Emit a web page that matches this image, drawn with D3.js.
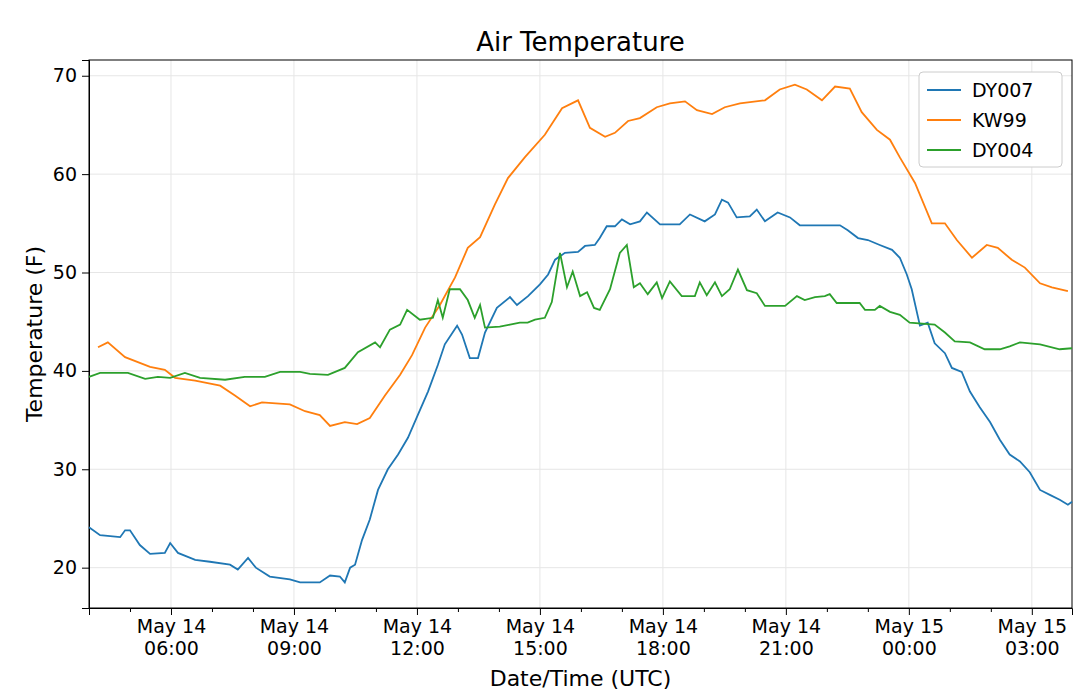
<!DOCTYPE html>
<html><head><meta charset="utf-8">
<script src="https://cdn.jsdelivr.net/npm/d3@7"></script>
<style>
body{margin:0;background:#fff;font-family:"DejaVu Sans",sans-serif;}
.axis text{font-size:19px;fill:#000;font-family:"DejaVu Sans";}
.axis path,.axis line{stroke:#000;}
.grid line{stroke:#e6e6e6;}
.line{fill:none;stroke-width:1.8;}
</style></head>
<body><svg id="chart"></svg>
<script>
// hours since May 14 00:00 UTC, temperature (F)
var dy007Hours = [4.00,4.27,4.76,4.88,5.00,5.24,5.49,5.85,5.98,6.17,6.59,6.95,7.44,7.63,7.88,8.07,8.41,8.90,9.15,9.63,9.88,10.12,10.24,10.37,10.49,10.66,10.85,11.05,11.29,11.54,11.78,12.02,12.27,12.51,12.68,12.98,13.10,13.29,13.49,13.66,13.95,14.27,14.44,14.71,15.00,15.20,15.37,15.61,15.93,16.10,16.34,16.46,16.63,16.83,17.00,17.20,17.44,17.61,17.93,18.41,18.66,19.02,19.27,19.44,19.59,19.80,20.12,20.29,20.49,20.80,21.10,21.34,22.32,22.51,22.76,23.00,23.29,23.59,23.78,23.95,24.07,24.27,24.46,24.63,24.88,25.05,25.29,25.49,25.73,25.98,26.22,26.46,26.71,26.95,27.20,27.44,27.68,27.88,27.98];
var dy007Temp = [24.1,23.3,23.1,23.8,23.8,22.3,21.4,21.5,22.5,21.5,20.8,20.6,20.3,19.8,21.0,20.0,19.1,18.8,18.5,18.5,19.2,19.1,18.5,20.0,20.3,22.8,24.9,27.9,30.0,31.5,33.2,35.5,37.9,40.6,42.7,44.6,43.7,41.3,41.3,43.9,46.4,47.5,46.7,47.6,48.8,49.8,51.3,52.0,52.1,52.7,52.8,53.5,54.7,54.7,55.4,54.9,55.2,56.1,54.9,54.9,55.9,55.2,55.9,57.4,57.1,55.6,55.7,56.4,55.2,56.1,55.6,54.8,54.8,54.3,53.5,53.3,52.8,52.3,51.5,49.8,48.3,44.6,44.9,42.8,41.8,40.3,39.9,37.9,36.3,34.8,33.0,31.5,30.8,29.7,27.9,27.4,26.9,26.4,26.7];

var kw99Hours = [4.22,4.46,4.88,5.49,5.85,6.10,6.59,7.20,7.56,7.93,8.22,8.90,9.27,9.63,9.88,10.24,10.54,10.85,11.22,11.59,11.88,12.20,12.56,12.93,13.24,13.54,13.90,14.22,14.63,15.12,15.54,15.93,16.22,16.59,16.83,17.15,17.44,17.85,18.17,18.54,18.83,19.20,19.51,19.88,20.49,20.85,21.22,21.51,21.88,22.20,22.56,22.85,23.22,23.54,23.78,24.15,24.56,24.88,25.17,25.54,25.90,26.17,26.51,26.83,27.20,27.49,27.88];
var kw99Temp = [42.4,42.9,41.4,40.4,40.1,39.3,39.0,38.5,37.5,36.4,36.8,36.6,35.9,35.5,34.4,34.8,34.6,35.2,37.5,39.6,41.6,44.4,46.7,49.5,52.5,53.6,56.9,59.6,61.7,64.0,66.7,67.5,64.7,63.8,64.2,65.4,65.7,66.8,67.2,67.4,66.5,66.1,66.8,67.2,67.5,68.6,69.1,68.6,67.5,68.9,68.7,66.3,64.5,63.5,61.7,59.1,55.0,55.0,53.3,51.5,52.8,52.5,51.3,50.5,48.9,48.5,48.1];

var dy004Hours = [4.00,4.27,4.95,5.37,5.68,5.98,6.34,6.71,7.32,7.80,8.29,8.66,9.15,9.39,9.83,10.24,10.56,10.98,11.10,11.34,11.59,11.76,12.07,12.39,12.51,12.63,12.80,13.05,13.24,13.41,13.54,13.66,14.02,14.27,14.51,14.70,14.88,15.12,15.29,15.49,15.66,15.80,15.98,16.15,16.32,16.46,16.71,16.95,17.12,17.29,17.44,17.63,17.85,17.98,18.17,18.46,18.78,18.90,19.07,19.27,19.44,19.63,19.83,20.05,20.29,20.49,20.98,21.27,21.46,21.71,21.95,22.07,22.24,22.80,22.93,23.17,23.29,23.54,23.78,24.02,24.63,24.88,25.12,25.49,25.85,26.22,26.46,26.71,27.20,27.68,27.98];
var dy004Temp = [39.4,39.8,39.8,39.2,39.4,39.3,39.8,39.3,39.1,39.4,39.4,39.9,39.9,39.7,39.6,40.3,41.9,42.9,42.4,44.2,44.7,46.2,45.2,45.4,47.2,45.4,48.3,48.3,47.2,45.4,46.7,44.4,44.5,44.7,44.9,44.9,45.2,45.4,47.0,52.0,48.5,50.1,47.6,48.0,46.4,46.2,48.3,52.0,52.8,48.5,48.9,47.8,49.0,47.4,49.1,47.6,47.6,49.0,47.7,49.0,47.6,48.3,50.3,48.2,47.9,46.6,46.6,47.6,47.2,47.5,47.6,47.8,46.9,46.9,46.2,46.2,46.6,46.0,45.7,44.9,44.7,43.9,43.0,42.9,42.2,42.2,42.5,42.9,42.7,42.2,42.3];

var seriesNames = ["DY007","KW99","DY004"];
var seriesColors = ["#1f77b4","#ff7f0e","#2ca02c"];
var yTicks = [20,30,40,50,60,70];

var W = 1080, H = 699;
var margin = {top:60, right:8, bottom:91, left:89};
var w = W - margin.left - margin.right, h = H - margin.top - margin.bottom;
var base = Date.UTC(2020,4,14);
function toDate(hr){ return new Date(base + hr*3600000); }

var svg = d3.select("#chart").attr("width",W).attr("height",H);
var g = svg.append("g").attr("transform","translate("+margin.left+","+margin.top+")");

var x = d3.scaleUtc().domain([toDate(4.0), toDate(27.98)]).range([0,w]);
var y = d3.scaleLinear().domain([15.9,71.6]).range([h,0]);
var majorX = d3.range(6,28,3).map(toDate);
var minorX = d3.range(5,28,1).map(toDate);

g.append("g").attr("class","grid").selectAll("line").data(majorX).join("line")
  .attr("x1",d=>x(d)).attr("x2",d=>x(d)).attr("y1",0).attr("y2",h);
g.append("g").attr("class","grid").selectAll("line").data(yTicks).join("line")
  .attr("x1",0).attr("x2",w).attr("y1",d=>y(d)).attr("y2",d=>y(d));

var fmtDay = d3.utcFormat("%b %d"), fmtHr = d3.utcFormat("%H:%M");
var xAxis = g.append("g").attr("class","axis").attr("transform","translate(0,"+h+")")
  .call(d3.axisBottom(x).tickValues(majorX).tickSize(7).tickPadding(5).tickFormat(""));
xAxis.selectAll(".tick text").each(function(d){
  var t = d3.select(this);
  t.append("tspan").attr("x",0).attr("dy","0.71em").text(fmtDay(d));
  t.append("tspan").attr("x",0).attr("dy","1.15em").text(fmtHr(d));
});
g.append("g").attr("class","axis").attr("transform","translate(0,"+h+")")
  .call(d3.axisBottom(x).tickValues(minorX.filter(d=>(d.getUTCHours()%3)!==0)).tickSize(4).tickFormat(""))
  .select(".domain").remove();
g.append("g").attr("class","axis")
  .call(d3.axisLeft(y).tickValues(yTicks).tickSize(7).tickPadding(5));
g.append("rect").attr("width",w).attr("height",h).attr("fill","none").attr("stroke","#000");

var line = d3.line().x(d=>x(toDate(d[0]))).y(d=>y(d[1]));
var allData = [[dy007Hours,dy007Temp],[kw99Hours,kw99Temp],[dy004Hours,dy004Temp]];
allData.forEach(function(s,i){
  g.append("path").attr("class","line").attr("stroke",seriesColors[i])
    .attr("d", line(d3.zip(s[0],s[1])));
});

svg.append("text").attr("x",margin.left+w/2).attr("y",51).attr("text-anchor","middle")
  .attr("font-size",26).text("Air Temperature");
svg.append("text").attr("x",margin.left+w/2).attr("y",686).attr("text-anchor","middle")
  .attr("font-size",22).text("Date/Time (UTC)");
svg.append("text").attr("transform","translate(42,"+(margin.top+h/2)+") rotate(-90)")
  .attr("text-anchor","middle").attr("font-size",22).text("Temperature (F)");

var lg = svg.append("g").attr("transform","translate(919,72)");
lg.append("rect").attr("width",143).attr("height",95).attr("rx",4)
  .attr("fill","#fff").attr("stroke","#ccc");
seriesNames.forEach(function(n,i){
  var yy = 18 + i*30;
  lg.append("line").attr("x1",8).attr("x2",42).attr("y1",yy).attr("y2",yy)
    .attr("stroke",seriesColors[i]).attr("stroke-width",2);
  lg.append("text").attr("x",53).attr("y",yy+7).attr("font-size",19).text(n);
});
</script></body></html>
